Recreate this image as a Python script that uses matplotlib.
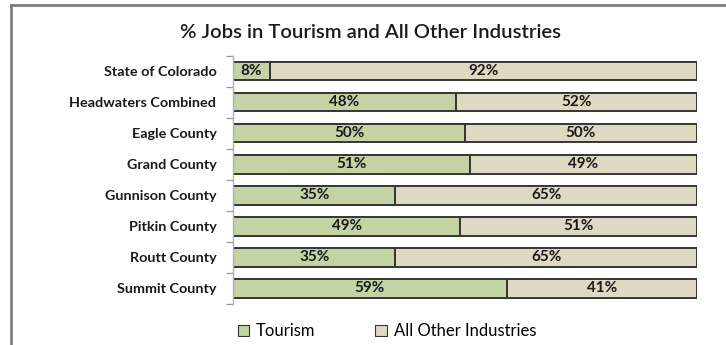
import matplotlib
matplotlib.use("Agg")
import matplotlib.pyplot as plt
import numpy as np
from matplotlib.lines import Line2D
from matplotlib.patches import Patch

regions = ["State of Colorado", "Headwaters Combined", "Eagle County", "Grand County",
           "Gunnison County", "Pitkin County", "Routt County", "Summit County"]
tourism = [8, 48, 50, 51, 35, 49, 35, 59]
other = [92, 52, 50, 49, 65, 51, 65, 41]
series_names = ["Tourism", "All Other Industries"]
title = "% Jobs in Tourism and All Other Industries"

plt.rcParams["font.family"] = ["Lato", "DejaVu Sans"]

GREEN = "#c3d3a3"
BEIGE = "#ddd9c3"
EDGE = "#353535"
TEXT = "#1a1a1a"

fig = plt.figure(figsize=(7.26, 3.45), dpi=100)
ax = fig.add_axes([0.321, 0.119, 0.639, 0.72])

y = np.arange(len(regions))
h = 0.6
ax.barh(y, tourism, height=h, color=GREEN, edgecolor=EDGE, linewidth=1.4)
ax.barh(y, other, left=tourism, height=h, color=BEIGE, edgecolor=EDGE, linewidth=1.4)

for yi, t, o in zip(y, tourism, other):
    ax.text(t / 2, yi, f"{t}%", ha="center", va="center", fontsize=11,
            fontweight="bold", color=TEXT)
    ax.text(t + o / 2, yi, f"{o}%", ha="center", va="center", fontsize=11,
            fontweight="bold", color=TEXT)

ax.set_xlim(0, 100)
ax.set_ylim(len(regions) - 0.5, -0.5)
ax.set_yticks(y)
ax.set_yticklabels(regions, fontsize=10.4, fontweight="bold", color=TEXT)
ax.set_yticks(np.arange(-0.5, len(regions)), minor=True)
ax.tick_params(axis="y", which="major", length=0, pad=12)
ax.tick_params(axis="y", which="minor", length=5, color="#a0a0a0", width=1)
ax.set_xticks([])
for s in ["top", "right", "bottom"]:
    ax.spines[s].set_visible(False)
ax.spines["left"].set_color("#b0b0b0")
ax.spines["left"].set_linewidth(1)

fig.text(0.51, 0.905, title, ha="center", va="center", fontsize=14.6,
         fontweight="semibold", color=TEXT)

handles = [Patch(facecolor=GREEN, edgecolor=EDGE, linewidth=0.8),
           Patch(facecolor=BEIGE, edgecolor=EDGE, linewidth=0.8)]
fig.legend(handles, series_names, loc="center", bbox_to_anchor=(0.533, 0.04),
           ncol=2, frameon=False, fontsize=12, handlelength=0.7, handleheight=0.7,
           handletextpad=0.4, columnspacing=3.6)

# outer frame: top and left edges
fig.add_artist(Line2D([0.015, 1.0], [0.986, 0.986], color="#7f7f7f", linewidth=2,
                      transform=fig.transFigure))
fig.add_artist(Line2D([0.015, 0.015], [0.0, 0.986], color="#7f7f7f", linewidth=2,
                      transform=fig.transFigure))

fig.savefig("out.png", dpi=100)
